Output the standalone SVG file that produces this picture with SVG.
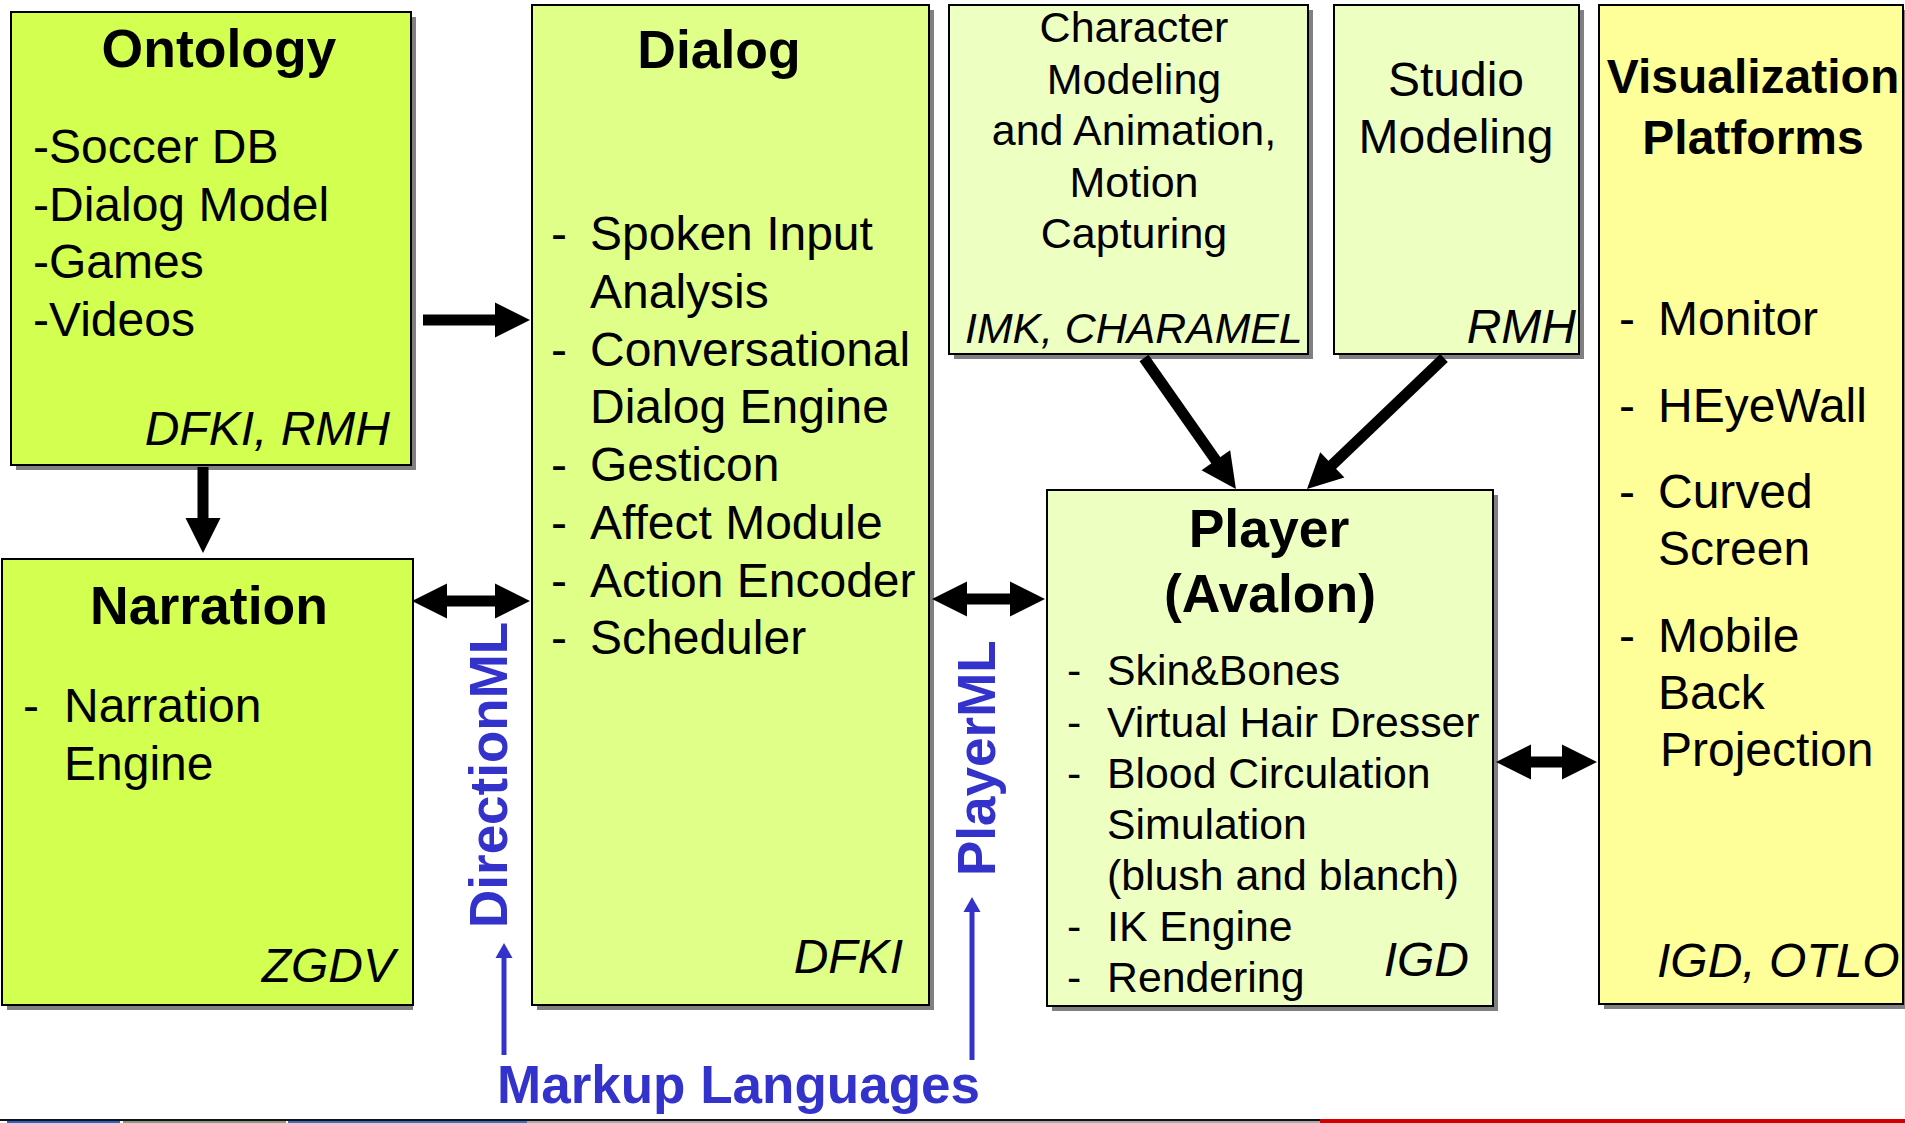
<svg xmlns="http://www.w3.org/2000/svg" width="1905" height="1123" viewBox="0 0 1905 1123">
<style>
text{font-family:"Liberation Sans",Arial,sans-serif;fill:#000}
.shadow{fill:#808080}
.box{stroke:#000;stroke-width:2}
.lime{fill:#D2FF50}
.dialog{fill:#DFFF88}
.pale{fill:#EEFFC2}
.viz{fill:#FFFF99}
.title{font-weight:bold;font-size:53.5px}
.vt{font-weight:bold;font-size:48px}
.b47{font-size:48px}
.b42{font-size:42.8px}
.c43{font-size:43px}
.org{font-style:italic}
.mid{text-anchor:middle}
.end{text-anchor:end}
.ml{font-weight:bold;font-size:53px;fill:#3333CC}
.arr{stroke:#000;stroke-width:11;fill:none}
.blue{stroke:#3333CC;stroke-width:5;fill:none}
</style>
<defs>
<marker id="head" markerUnits="userSpaceOnUse" markerWidth="36" markerHeight="36" refX="5" refY="17.5" orient="auto-start-reverse" overflow="visible">
<path d="M0,0 L35,17.5 L0,35 z" fill="#000"/>
</marker>
<marker id="bhead" markerUnits="userSpaceOnUse" markerWidth="18" markerHeight="18" refX="3" refY="8.5" orient="auto" overflow="visible">
<path d="M0,0 L15,8.5 L0,17 z" fill="#3333CC"/>
</marker>
</defs>
<rect width="1905" height="1123" fill="#fff"/>

<g id="ontology">
<rect class="shadow" x="16" y="17" width="400" height="453"/>
<rect class="box lime" x="11" y="12" width="400" height="453"/>
<text class="title mid" x="219" y="67">Ontology</text>
<text class="b47" x="33" y="163">-Soccer DB</text>
<text class="b47" x="33" y="221">-Dialog Model</text>
<text class="b47" x="33" y="278">-Games</text>
<text class="b47" x="33" y="336">-Videos</text>
<text class="b47 org end" x="390" y="445">DFKI, RMH</text>
</g>

<g id="narration">
<rect class="shadow" x="7" y="564" width="406" height="446"/>
<rect class="box lime" x="2" y="559" width="411" height="446"/>
<text class="title mid" x="209" y="624">Narration</text>
<text class="b47" x="23" y="722">-</text>
<text class="b47" x="64" y="722">Narration</text>
<text class="b47" x="64" y="780">Engine</text>
<text class="b47 org end" x="395" y="982">ZGDV</text>
</g>

<g id="dialog">
<rect class="shadow" x="537" y="10" width="397" height="1000"/>
<rect class="box dialog" x="532" y="5" width="397" height="1000"/>
<text class="title mid" x="719" y="68">Dialog</text>
<text class="b47" x="551" y="250">-</text>
<text class="b47" x="590" y="250">Spoken Input</text>
<text class="b47" x="590" y="308">Analysis</text>
<text class="b47" x="551" y="366">-</text>
<text class="b47" x="590" y="366">Conversational</text>
<text class="b47" x="590" y="423">Dialog Engine</text>
<text class="b47" x="551" y="481">-</text>
<text class="b47" x="590" y="481">Gesticon</text>
<text class="b47" x="551" y="539">-</text>
<text class="b47" x="590" y="539">Affect Module</text>
<text class="b47" x="551" y="597">-</text>
<text class="b47" x="590" y="597">Action Encoder</text>
<text class="b47" x="551" y="654">-</text>
<text class="b47" x="590" y="654">Scheduler</text>
<text class="b47 org end" x="903" y="973">DFKI</text>
</g>

<g id="character">
<rect class="shadow" x="954" y="10" width="359" height="349"/>
<rect class="box pale" x="949" y="5" width="359" height="349"/>
<text class="c43 mid" x="1134" y="42">Character</text>
<text class="c43 mid" x="1134" y="94">Modeling</text>
<text class="c43 mid" x="1134" y="145">and Animation,</text>
<text class="c43 mid" x="1134" y="197">Motion</text>
<text class="c43 mid" x="1134" y="248">Capturing</text>
<text class="b42 org" x="965" y="343">IMK, CHARAMEL</text>
</g>

<g id="studio">
<rect class="shadow" x="1339" y="10" width="245" height="349"/>
<rect class="box pale" x="1334" y="5" width="245" height="349"/>
<text class="b47 mid" x="1456" y="96">Studio</text>
<text class="b47 mid" x="1456" y="153">Modeling</text>
<text class="b47 org end" x="1576" y="343">RMH</text>
</g>

<g id="visualization">
<rect class="shadow" x="1604" y="10" width="304" height="999"/>
<rect class="box viz" x="1599" y="5" width="304" height="999"/>
<text class="vt mid" x="1753" y="93">Visualization</text>
<text class="vt mid" x="1753" y="154">Platforms</text>
<text class="b47" x="1619" y="335">-</text>
<text class="b47" x="1658" y="335">Monitor</text>
<text class="b47" x="1619" y="422">-</text>
<text class="b47" x="1658" y="422">HEyeWall</text>
<text class="b47" x="1619" y="508">-</text>
<text class="b47" x="1658" y="508">Curved</text>
<text class="b47" x="1658" y="565">Screen</text>
<text class="b47" x="1619" y="652">-</text>
<text class="b47" x="1658" y="652">Mobile</text>
<text class="b47" x="1658" y="709">Back</text>
<text class="b47" x="1660" y="766">Projection</text>
<text class="b47 org" x="1657" y="977">IGD, OTLO</text>
</g>

<g id="player">
<rect class="shadow" x="1052" y="495" width="446" height="516"/>
<rect class="box pale" x="1047" y="490" width="446" height="516"/>
<text class="title mid" x="1269" y="547">Player</text>
<text class="title mid" x="1270" y="612">(Avalon)</text>
<text class="b42" x="1067" y="685">-</text>
<text class="b42" x="1107" y="685">Skin&amp;Bones</text>
<text class="b42" x="1067" y="737">-</text>
<text class="b42" x="1107" y="737">Virtual Hair Dresser</text>
<text class="b42" x="1067" y="788">-</text>
<text class="b42" x="1107" y="788">Blood Circulation</text>
<text class="b42" x="1107" y="839">Simulation</text>
<text class="b42" x="1107" y="890">(blush and blanch)</text>
<text class="b42" x="1067" y="941">-</text>
<text class="b42" x="1107" y="941">IK Engine</text>
<text class="b42" x="1067" y="992">-</text>
<text class="b42" x="1107" y="992">Rendering</text>
<text class="b47 org end" x="1469" y="976">IGD</text>
</g>

<g id="connectors">
<line class="arr" x1="423" y1="320" x2="500" y2="320" marker-end="url(#head)"/>
<line class="arr" x1="203" y1="467" x2="203" y2="523" marker-end="url(#head)"/>
<line class="arr" x1="442" y1="601" x2="500" y2="601" marker-start="url(#head)" marker-end="url(#head)"/>
<line class="arr" x1="962" y1="599" x2="1015" y2="599" marker-start="url(#head)" marker-end="url(#head)"/>
<line class="arr" x1="1526" y1="762" x2="1567" y2="762" marker-start="url(#head)" marker-end="url(#head)"/>
<line class="arr" x1="1144" y1="358" x2="1218.7" y2="464.4" marker-end="url(#head)"/>
<line class="arr" x1="1444" y1="358" x2="1328.7" y2="468.3" marker-end="url(#head)"/>
<line class="blue" x1="504" y1="1055" x2="504" y2="955" marker-end="url(#bhead)"/>
<line class="blue" x1="972" y1="1060" x2="972" y2="909" marker-end="url(#bhead)"/>
</g>

<g id="labels">
<text class="ml" transform="translate(507,928) rotate(-90)">DirectionML</text>
<text class="ml" transform="translate(995,876) rotate(-90)">PlayerML</text>
<text class="ml" x="497" y="1103">Markup Languages</text>
</g>

<g id="footer">
<rect x="0" y="1119" width="1320" height="2" fill="#111"/>
<rect x="7" y="1121" width="113" height="2" fill="#2266CC"/>
<rect x="123" y="1121" width="163" height="2" fill="#8A9A80"/>
<rect x="288" y="1121" width="239" height="2" fill="#3A6FC0"/>
<rect x="527" y="1121" width="793" height="2" fill="#AAAAAA"/>
<rect x="1320" y="1119" width="585" height="4" fill="#D40000"/>
</g>
</svg>
